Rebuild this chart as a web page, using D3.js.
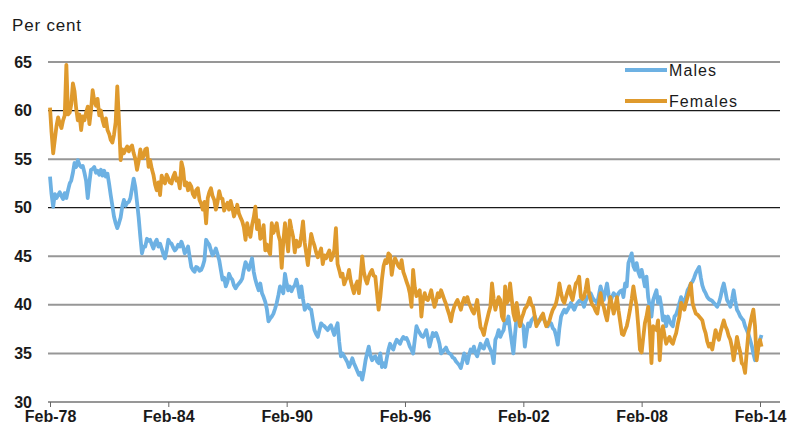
<!DOCTYPE html>
<html>
<head>
<meta charset="utf-8">
<script src="https://cdn.jsdelivr.net/npm/d3@7"></script>
<style>
  body { margin: 0; background: #fff; }
  text { font-family: "Liberation Sans", Arial, sans-serif; }
</style>
</head>
<body>
<script>
// monthly series, Feb-78 onwards (one row = Feb..Jan)
const startDate = new Date(1978, 1, 1);

const males = [
  53.2, 51.4, 50.1, 51.4, 51.0, 51.3, 51.6, 51.2, 50.9, 51.5, 51.0, 51.8,
  52.5, 52.8, 53.6, 54.6, 54.2, 54.9, 54.4, 54.2, 54.3, 53.6, 52.8, 51.0,
  52.6, 53.9, 54.0, 54.2, 53.6, 53.8, 53.4, 53.9, 53.3, 53.8, 53.2, 53.5,
  52.4, 51.3, 50.2, 49.1, 48.4, 47.9, 48.4, 49.0, 50.1, 50.8, 50.2, 50.5,
  50.6, 51.0, 52.0, 53.0, 52.1, 50.6, 49.0, 47.0, 45.3, 46.0, 46.0, 46.8,
  46.6, 46.7, 46.2, 45.8, 46.4, 46.7, 46.0, 46.3, 45.8, 45.2, 44.8, 45.6,
  46.7, 46.4, 46.3, 45.9, 45.6, 45.8, 46.2, 46.0, 46.5, 46.0, 45.3, 45.6,
  46.0, 45.0, 43.9, 43.6, 43.4, 43.9, 43.8, 43.5, 43.6, 44.0, 44.6, 46.7,
  46.4, 46.2, 45.6, 45.1, 45.4, 45.8, 45.2, 44.6, 43.6, 42.6, 42.8, 41.9,
  42.4, 43.2, 42.8, 42.6, 42.0, 41.7, 42.0, 42.2, 42.4, 42.7, 43.6, 44.4,
  44.0, 43.6, 44.2, 44.8, 43.4, 42.6, 42.0, 41.5, 42.2, 41.2, 40.8, 40.3,
  39.5, 38.3, 38.6, 38.8, 39.1, 39.6, 40.2, 41.0, 41.9, 41.6, 41.2, 43.2,
  42.2, 41.5, 41.9, 41.4, 41.8, 42.0, 42.6, 41.8, 40.8, 41.9, 40.6, 39.5,
  39.8, 40.0, 39.6, 39.5, 38.4, 37.4, 37.0, 36.7, 37.4, 38.1, 37.9, 37.8,
  37.6, 37.4, 37.7, 37.9, 37.4, 36.9, 37.6, 38.1, 36.2, 34.7, 35.0, 34.7,
  34.4, 34.1, 33.6, 34.0, 34.5, 34.0, 33.6, 33.2, 32.8, 33.0, 32.3, 33.2,
  34.3, 35.0, 35.7, 34.8, 34.3, 34.6, 34.7, 34.2, 34.0, 35.0, 33.6, 34.0,
  33.6, 34.5, 35.4, 36.0, 35.6, 35.4, 36.0, 36.4, 36.2, 36.0, 36.4, 36.7,
  36.5, 36.6, 36.2, 35.7, 35.4, 35.0, 36.4, 37.8, 37.4, 37.1, 36.8, 36.7,
  37.0, 37.4, 36.6, 35.7, 36.4, 37.1, 36.8, 37.1, 36.6, 36.0, 35.0, 35.2,
  35.4, 35.6, 35.2, 35.0, 34.9, 34.6, 34.5, 34.2, 34.0, 33.8, 33.5, 34.2,
  35.0, 34.6, 34.0, 34.8, 35.4, 35.2, 35.7, 35.0, 34.7, 35.4, 36.0, 35.6,
  35.5, 36.0, 36.4, 35.8, 35.4, 35.0, 34.0, 36.4, 36.8, 37.4, 36.7, 37.1,
  37.4, 38.4, 38.1, 38.8, 37.4, 36.2, 35.0, 37.0, 38.8, 38.6, 38.4, 38.0,
  37.8, 35.7, 37.0, 38.1, 37.8, 38.4, 38.6, 38.8, 38.4, 38.1, 38.5, 38.8,
  38.6, 38.4, 38.0, 37.8, 38.2, 38.1, 37.6, 37.4, 36.8, 35.9, 37.6, 38.8,
  39.2, 39.5, 39.2, 39.5, 39.8, 40.2, 39.8, 39.5, 39.9, 40.2, 40.4, 40.5,
  40.2, 39.8, 40.4, 40.8, 41.0, 41.2, 40.8, 40.5, 40.4, 40.2, 41.0, 41.9,
  41.2, 40.5, 41.4, 42.2, 41.0, 40.2, 40.8, 41.2, 41.0, 40.8, 41.2, 41.4,
  41.5, 40.8, 42.2, 41.9, 44.3, 44.8, 45.3, 44.0, 43.6, 44.3, 43.4, 42.9,
  43.6, 42.8, 41.9, 42.9, 40.8, 39.8, 38.8, 40.5, 41.0, 41.5, 40.2, 40.8,
  39.8, 38.4, 38.8, 37.8, 38.8, 38.4, 38.0, 37.8, 38.8, 39.0, 39.5, 40.2,
  40.8, 40.4, 40.2, 40.8, 41.5, 41.8, 42.2, 42.4, 42.8, 43.3, 43.6, 43.9,
  42.8, 42.0, 41.5, 41.2, 40.8, 40.6, 40.5, 40.4, 40.2, 40.0, 39.8, 40.2,
  40.8, 41.6, 42.2, 41.4, 40.5, 40.2, 39.8, 40.6, 41.5, 40.4, 39.5, 39.2,
  38.8, 38.6, 38.4, 37.8, 37.4, 37.0, 36.4, 35.8, 35.0, 34.3, 35.0, 35.7,
  36.4, 36.9
];

const females = [
  60.3, 57.8, 55.6, 57.0, 58.4, 59.3, 58.7, 58.2, 59.0, 59.5, 64.7, 59.6,
  59.8, 60.6, 62.8, 62.0, 60.2, 59.0, 59.6, 58.0, 59.4, 59.0, 59.8, 60.4,
  58.6, 60.0, 62.1, 61.0, 60.5, 61.2, 59.5, 60.0, 59.0, 58.4, 59.2, 58.0,
  57.6, 57.0, 56.7, 57.5, 58.8, 62.5, 59.0, 54.9, 56.0, 55.6, 56.0, 56.3,
  55.8, 56.2, 56.4, 55.6, 55.0, 53.9, 54.8, 56.0, 55.1, 55.3, 56.0, 56.1,
  54.2, 54.9, 54.0, 53.4, 52.4, 51.8, 52.6, 51.3, 53.3, 52.8, 52.5, 53.4,
  53.0, 52.6, 52.5, 53.2, 53.6, 52.8, 53.0, 52.0, 54.7, 54.0, 52.3, 52.6,
  51.8, 52.5, 52.2, 51.4, 51.1, 51.8, 52.0, 50.8, 50.4, 49.8, 50.6, 48.4,
  51.0, 51.6, 52.0, 51.2, 50.8, 49.8, 50.6, 51.7, 51.0, 50.9, 49.7, 50.2,
  50.5, 49.8, 50.7, 50.0, 49.1, 49.6, 50.3, 49.4, 49.0, 48.6, 48.0, 46.7,
  48.4, 47.6, 47.0, 48.2, 49.0, 50.1, 47.8, 48.7, 46.8, 47.0, 48.2, 45.6,
  46.2, 45.6, 45.2, 48.4, 47.4, 47.9, 48.4, 47.2, 46.6, 43.8, 46.5, 48.4,
  46.8, 45.5, 48.7, 47.8, 47.0, 45.4, 46.6, 46.0, 46.1, 47.2, 48.6, 46.4,
  45.2, 44.1, 45.8, 47.3, 46.6, 46.1, 45.4, 44.9, 45.3, 45.8, 44.2, 45.1,
  44.8, 45.2, 45.6, 44.6, 45.0, 45.6, 47.9, 44.2, 43.6, 42.9, 43.2, 42.1,
  42.6, 42.8, 43.6, 42.5, 41.8, 41.2, 42.0, 42.4, 41.2, 43.0, 45.0, 43.4,
  42.6, 42.2, 42.9, 43.3, 43.6, 43.0, 42.9, 41.2, 39.5, 40.8, 42.6, 44.0,
  44.6, 44.3, 45.3, 45.1, 43.1, 44.2, 44.8, 44.4, 44.0, 43.8, 44.6, 43.4,
  42.9, 42.4, 41.9, 41.2, 39.8, 43.6, 41.8, 40.9, 41.2, 41.5, 38.8, 40.6,
  41.2, 40.6, 40.5, 40.9, 41.5, 40.6, 39.8, 40.4, 41.2, 40.8, 41.5, 41.0,
  40.5, 40.1, 39.5, 39.0, 38.3, 39.2, 39.8, 40.2, 40.5, 40.0, 39.5, 40.2,
  40.7, 40.3, 40.8, 40.2, 39.8, 39.4, 39.1, 39.8, 40.5, 39.0, 37.7, 37.4,
  36.9, 37.8, 38.5, 39.2, 39.8, 42.2, 40.6, 39.5, 40.2, 40.8, 40.5, 38.8,
  38.4, 41.9, 40.2, 40.5, 42.2, 40.6, 39.1, 38.4, 40.2, 39.0, 37.8, 38.6,
  39.1, 39.6, 39.8, 40.2, 40.7, 40.0, 39.8, 38.8, 37.8, 38.2, 38.4, 38.8,
  39.1, 38.4, 37.8, 38.0, 38.4, 39.0, 39.5, 39.8, 40.2, 41.0, 42.2, 41.2,
  40.5, 40.2, 40.8, 41.4, 41.9, 41.0, 40.5, 41.4, 42.2, 42.4, 42.9, 40.8,
  40.6, 40.8, 41.6, 42.6, 41.2, 40.5, 40.0, 39.8, 39.4, 39.1, 40.2, 41.2,
  40.2, 39.8, 39.0, 38.4, 39.6, 40.8, 40.0, 39.1, 39.8, 40.8, 39.4, 38.2,
  37.0, 36.9, 37.4, 37.8, 38.6, 39.5, 40.6, 41.9, 40.8, 39.8, 37.8, 35.4,
  35.1, 36.6, 38.1, 38.8, 39.8, 37.4, 34.0, 37.8, 37.6, 37.4, 38.4, 34.3,
  37.1, 37.8, 36.8, 36.0, 36.4, 36.7, 36.2, 36.0, 36.6, 37.1, 38.0, 38.8,
  40.2, 39.8, 39.5, 40.2, 40.8, 41.4, 42.2, 40.2, 39.6, 39.1, 39.0, 38.8,
  38.6, 38.4, 37.6, 37.1, 36.2, 35.7, 36.0, 35.4, 36.4, 37.4, 36.8, 36.4,
  37.2, 37.8, 38.4, 37.8, 37.4, 36.8, 36.4, 35.6, 34.3, 35.4, 36.7, 35.8,
  35.1, 34.0, 33.8, 33.0, 35.2, 37.1, 38.0, 38.8, 39.5, 37.8, 34.3, 35.6,
  36.4, 35.7
];

const yTicks = [30, 35, 40, 45, 50, 55, 60, 65];
const xTickYears = [1978, 1984, 1990, 1996, 2002, 2008, 2014];
const seriesNames = ["Males", "Females"];

const width = 791, height = 430;

const svg = d3.select("body")
    .append("svg")
    .attr("width", width)
    .attr("height", height);

const x = d3.scaleTime()
    .domain([new Date(1978, 1, 1), new Date(2014, 1, 1)])
    .range([50, 760]);

const y = d3.scaleLinear()
    .domain([30, 65])
    .range([402, 62]);

const monthDate = i => new Date(startDate.getFullYear(), startDate.getMonth() + i, 1);

// gridlines (30 is the axis); 50 and 60 render as thin dark lines in the original
const darkLine = d => d === 60 || d === 50;
svg.selectAll("line.grid")
    .data(yTicks.filter(d => d > 30))
    .enter()
    .append("line")
    .attr("class", "grid")
    .attr("x1", 48)
    .attr("x2", 780)
    .attr("y1", d => y(d))
    .attr("y2", d => y(d))
    .attr("stroke", d => darkLine(d) ? "#1a1a1a" : "#979797")
    .attr("stroke-width", d => darkLine(d) ? 1.2 : 2);

// y labels
svg.selectAll("text.ylab")
    .data(yTicks)
    .enter()
    .append("text")
    .attr("class", "ylab")
    .attr("x", 32)
    .attr("y", d => y(d))
    .attr("dy", "0.35em")
    .attr("text-anchor", "end")
    .style("font-size", "16px")
    .style("font-weight", "bold")
    .attr("fill", "#1a1a1a")
    .text(d => d);

// x axis
svg.append("line")
    .attr("x1", 48).attr("x2", 780)
    .attr("y1", y(30)).attr("y2", y(30))
    .attr("stroke", "#979797")
    .attr("stroke-width", 2);

const xAxis = svg.append("g")
    .attr("transform", "translate(0," + y(30) + ")")
    .call(d3.axisBottom(x)
        .tickValues(xTickYears.map(yr => new Date(yr, 1, 1)))
        .tickFormat(d3.timeFormat("%b-%y"))
        .tickSize(5)
        .tickPadding(4));
xAxis.select(".domain").remove();
xAxis.selectAll(".tick line").attr("stroke", "#666");
xAxis.selectAll(".tick text")
    .style("font-size", "16px")
    .style("font-weight", "bold")
    .style("font-family", "'Liberation Sans', Arial, sans-serif")
    .attr("fill", "#1a1a1a");

// y title
svg.append("text")
    .attr("x", 12)
    .attr("y", 31)
    .style("font-size", "17px")
    .style("letter-spacing", "0.8px")
    .attr("fill", "#1a1a1a")
    .text("Per cent");

// lines
const line = d3.line()
    .x((d, i) => x(monthDate(i)))
    .y(d => y(d));

const colors = d3.scaleOrdinal()
    .domain(seriesNames)
    .range(["#6db1e3", "#df9a2d"]);

[males, females].forEach((s, k) => {
    svg.append("path")
        .datum(s)
        .attr("fill", "none")
        .attr("stroke", colors(seriesNames[k]))
        .attr("stroke-width", 3.8)
        .attr("stroke-linejoin", "round")
        .attr("d", line);
});

// legend
const legend = svg.selectAll("g.legend")
    .data(seriesNames)
    .enter()
    .append("g")
    .attr("class", "legend")
    .attr("transform", (d, i) => "translate(625," + (70 + i * 31) + ")");
legend.append("line")
    .attr("x1", 0).attr("x2", 42)
    .attr("stroke", d => colors(d))
    .attr("stroke-width", 3.8);
legend.append("text")
    .attr("x", 44)
    .attr("dy", "0.35em")
    .style("font-size", "16px")
    .style("letter-spacing", "1.1px")
    .attr("fill", "#1a1a1a")
    .text(d => d);
</script>
</body>
</html>
